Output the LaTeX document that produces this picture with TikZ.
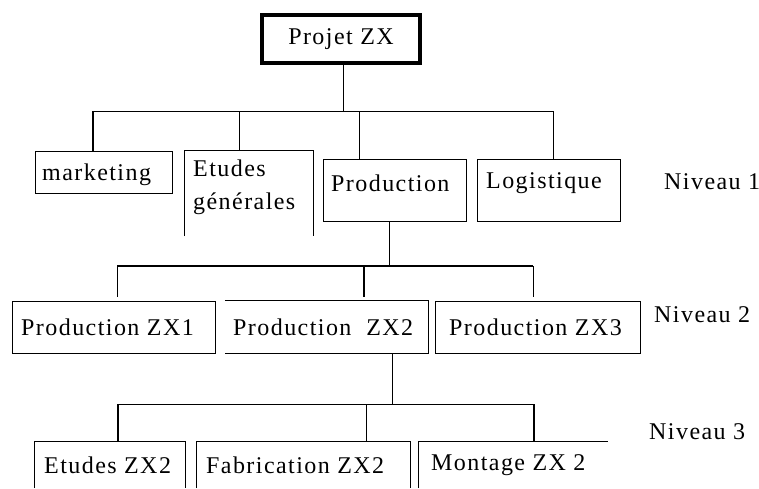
\documentclass[tikz,border=0pt]{standalone}
\usepackage{fontspec}
\setmainfont{Liberation Serif}[LetterSpace=6]
\begin{document}
\begin{tikzpicture}[x=1pt,y=-1pt,
  every node/.style={font=\fontsize{24}{28}\selectfont, inner sep=0pt},
  boxd/.style={draw, line width=1pt},
  boxn/.style={},
  lbl/.style={anchor=west},
  thin/.style={line width=1pt},
  bold/.style={line width=2.6pt}]
\useasboundingbox (0,0) rectangle (759,488);
% top
\node[draw, line width=3.5pt, minimum width=158pt, minimum height=48pt] (proj) at (341,39) {Projet ZX};
% level 1
\node[boxd, minimum width=137pt, minimum height=42pt] (mkt) at (103.5,172) {};
\node[boxn, minimum width=128pt, minimum height=85pt] (etu) at (249,193.5) {};
\node[boxd, minimum width=143pt, minimum height=62pt] (prod) at (394.5,190) {};
\node[boxd, minimum width=143pt, minimum height=62pt] (log) at (548.5,190) {};
\draw[thin] (etu.south west) -- (etu.north west) -- (etu.north east) -- (etu.south east);
\node[lbl] (tmkt) at (42,175) {marketing};
\node[lbl, align=left, anchor=north west, font=\fontsize{24}{33}\selectfont] (tetu) at (193,160) {Etudes\\générales};
\node[lbl] (tprod) at (331,183) {Production};
\node[lbl] (tlog) at (486,183) {Logistique};
\node[lbl] (n1) at (664,182) {Niveau 1};
% level 2
\node[boxd, minimum width=203pt, minimum height=52pt] (zx1) at (113.5,327) {};
\node[boxn, minimum width=203pt, minimum height=52pt] (zx2) at (326.5,327) {};
\node[boxd, minimum width=205pt, minimum height=52pt] (zx3) at (537.5,327) {};
\draw[thin] (zx2.north west) -- (zx2.north east) -- (zx2.south east) -- (zx2.south west);
\node[lbl] (tzx1) at (21,327) {Production ZX1};
\node[lbl] (tzx2) at (233,327) {Production\ \ ZX2};
\node[lbl] (tzx3) at (449,327) {Production ZX3};
\node[lbl] (n2) at (654,315) {Niveau 2};
% level 3
\node[boxn, minimum width=150pt, minimum height=46pt] (e2) at (110,465) {};
\node[boxn, minimum width=213pt, minimum height=46pt] (fab) at (303.5,465) {};
\node[boxn, minimum width=189pt, minimum height=46pt] (mon) at (513.5,465) {};
\draw[thin] (e2.south west) -- (e2.north west) -- (e2.north east) -- (e2.south east);
\draw[thin] (fab.south west) -- (fab.north west) -- (fab.north east) -- (fab.south east);
\draw[thin] (mon.south west) -- (mon.north west) -- (mon.north east);
\node[lbl] (te2) at (44,465) {Etudes ZX2};
\node[lbl] (tfab) at (206,465) {Fabrication ZX2};
\node[lbl] (tmon) at (431,465) {Montage ZX 2};
\node[lbl] (n3) at (649,432) {Niveau 3};
% connectors level 0-1
\coordinate (b0) at (343,111);
\coordinate (b1a) at (93,111);
\coordinate (b1b) at (239,111);
\coordinate (b1c) at (359,111);
\coordinate (b1d) at (553,111);
\draw[thin] (proj.south -| b0) -- (b0);
\draw[thin] (b1a) -- (b1d);
\draw[line width=2pt] (b1a) -- (b1a |- mkt.north);
\draw[thin] (b1b) -- (b1b |- etu.north);
\draw[thin] (b1c) -- (b1c |- prod.north);
\draw[thin] (b1d) -- (b1d |- log.north);
% level 1-2
\coordinate (c0) at (389,266);
\coordinate (c1) at (117,266);
\coordinate (c2) at (364,266);
\coordinate (c3) at (533,266);
\draw[thin] (prod.south -| c0) -- (c0);
\draw[bold] (c1) -- (c3);
\draw[thin] (c1) -- ([yshift=4pt]c1 |- zx1.north);
\draw[bold] (c2) -- ([yshift=4pt]c2 |- zx2.north);
\draw[thin] (c3) -- ([yshift=4pt]c3 |- zx3.north);
% level 2-3
\coordinate (d0) at (392,404);
\coordinate (d1) at (118,404);
\coordinate (d2) at (366,404);
\coordinate (d3) at (534,404);
\draw[thin] (zx2.south -| d0) -- (d0);
\draw[thin] (d1) -- (d3);
\draw[bold] (d1) -- (d1 |- e2.north);
\draw[thin] (d2) -- (d2 |- fab.north);
\draw[bold] (d3) -- (d3 |- mon.north);
\end{tikzpicture}
\end{document}
